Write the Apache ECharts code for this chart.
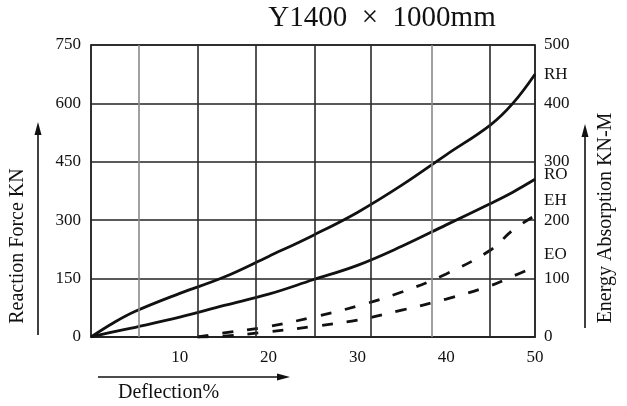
<!DOCTYPE html>
<html>
<head>
<meta charset="utf-8">
<script src="https://cdn.jsdelivr.net/npm/echarts@6/dist/echarts.min.js"></script>
<style>
html,body{margin:0;padding:0;background:#fff;}
#chart{width:627px;height:406px;}
</style>
</head>
<body>
<div id="chart"></div>
<script>
// ---- data ----
const titleText = 'Y1400  ×  1000mm';
const xTicks = [10, 20, 30, 40, 50];
const leftTicks = [0, 150, 300, 450, 600, 750];
const rightTicks = [0, 100, 200, 300, 400, 500];

const reactionDeflection = [0, 2.5, 5, 10, 15, 20, 25, 30, 35, 40, 45, 47.5, 50];
const rhForce = [0, 36, 66, 112, 154, 207, 261, 320, 390, 468, 545, 600, 675];
const roForce = [0, 13, 25, 51, 81, 110, 147, 184, 233, 288, 343, 372, 405];

const energyDeflection = [12, 15, 20, 25, 30, 35, 40, 45, 47.5, 50];
const ehEnergy = [0, 7, 18, 34, 53, 77, 108, 149, 183, 208];
const eoEnergy = [0, 1.5, 9, 18, 29, 46, 65, 88, 104, 120];

// vertical grid lines of the reference (deflection %)
const gridDeflection = [5.4, 12.05, 18.6, 25.2, 31.5, 38.4, 44.9];

const seriesNames = ['RH', 'RO', 'EH', 'EO'];

function pairs(xs, ys) { return xs.map((x, i) => [x, ys[i]]); }

const serif = '"Liberation Serif", "Times New Roman", serif';
const ink = '#111';

const chart = echarts.init(document.getElementById('chart'), null, {renderer: 'canvas'});

const lineBase = {
  type: 'line', showSymbol: false, symbol: 'none', smooth: 0.4, silent: true,
  endLabel: {show: true, formatter: '{a}', color: ink, fontFamily: serif, fontSize: 17, distance: 9}
};

chart.setOption({
  animation: false,
  backgroundColor: '#fff',
  title: {
    text: titleText, left: 377, top: -1, textAlign: 'center',
    textStyle: {fontFamily: serif, fontSize: 29, fontWeight: 'normal', color: ink}
  },
  grid: {left: 91, right: 92, top: 45, bottom: 69, show: true, borderColor: '#222', borderWidth: 1.5, backgroundColor: 'transparent'},
  xAxis: {
    type: 'value', min: 0, max: 50, interval: 10,
    axisLine: {show: true, lineStyle: {color: '#222', width: 1.5}},
    axisTick: {show: false}, splitLine: {show: false},
    axisLabel: {
      color: ink, fontFamily: serif, fontSize: 17, margin: 12,
      formatter: v => xTicks.includes(v) ? String(v) : ''
    }
  },
  yAxis: [{
    type: 'value', min: leftTicks[0], max: leftTicks[leftTicks.length - 1], interval: leftTicks[1] - leftTicks[0],
    axisLine: {show: true, lineStyle: {color: '#222', width: 1.5}},
    axisTick: {show: false},
    splitLine: {show: true, lineStyle: {color: '#222', width: 1.6}},
    axisLabel: {color: ink, fontFamily: serif, fontSize: 17, margin: 10}
  }, {
    type: 'value', min: rightTicks[0], max: rightTicks[rightTicks.length - 1], interval: rightTicks[1] - rightTicks[0],
    position: 'right',
    axisLine: {show: true, lineStyle: {color: '#222', width: 1.5}},
    axisTick: {show: false}, splitLine: {show: false},
    axisLabel: {color: ink, fontFamily: serif, fontSize: 17, margin: 9}
  }],
  series: [
    Object.assign({}, lineBase, {
      name: seriesNames[0], yAxisIndex: 0, data: pairs(reactionDeflection, rhForce),
      lineStyle: {color: ink, width: 2.8},
      endLabel: Object.assign({}, lineBase.endLabel, {offset: [0, 0]}),
      markLine: {
        silent: true, symbol: 'none', label: {show: false},
        lineStyle: {color: '#2a2a2a', width: 1.6, type: 'solid'},
        data: gridDeflection.map((v, i) => (i === 0 || i === 5)
          ? {xAxis: v, lineStyle: {color: '#8a8a8a', width: 1.6, type: 'solid'}}
          : {xAxis: v})
      }
    }),
    Object.assign({}, lineBase, {
      name: seriesNames[1], yAxisIndex: 0, data: pairs(reactionDeflection, roForce),
      lineStyle: {color: ink, width: 2.8},
      endLabel: Object.assign({}, lineBase.endLabel, {offset: [0, -5]})
    }),
    Object.assign({}, lineBase, {
      name: seriesNames[2], yAxisIndex: 1, data: pairs(energyDeflection, ehEnergy),
      lineStyle: {color: ink, width: 2.8, type: [11, 14]},
      endLabel: Object.assign({}, lineBase.endLabel, {offset: [0, -15]})
    }),
    Object.assign({}, lineBase, {
      name: seriesNames[3], yAxisIndex: 1, data: pairs(energyDeflection, eoEnergy),
      lineStyle: {color: ink, width: 2.8, type: [11, 14]},
      endLabel: Object.assign({}, lineBase.endLabel, {offset: [0, -12]})
    })
  ],
  graphic: [
    // left axis name + arrow
    {type: 'text', x: 18, y: 246, rotation: Math.PI / 2,
      style: {text: 'Reaction Force KN', fill: ink, font: '20px ' + serif, textAlign: 'center', textVerticalAlign: 'middle'}},
    {type: 'line', shape: {x1: 38, y1: 335, x2: 38, y2: 132}, style: {stroke: ink, lineWidth: 1.6}},
    {type: 'polygon', shape: {points: [[38, 122], [34.5, 135], [41.5, 135]]}, style: {fill: ink}},
    // right axis name + arrow
    {type: 'text', x: 606, y: 218, rotation: Math.PI / 2,
      style: {text: 'Energy Absorption KN-M', fill: ink, font: '20px ' + serif, textAlign: 'center', textVerticalAlign: 'middle'}},
    {type: 'line', shape: {x1: 585, y1: 328, x2: 585, y2: 134}, style: {stroke: ink, lineWidth: 1.6}},
    {type: 'polygon', shape: {points: [[585, 124], [581.5, 137], [588.5, 137]]}, style: {fill: ink}},
    // x axis name + arrow
    {type: 'line', shape: {x1: 98, y1: 377, x2: 280, y2: 377}, style: {stroke: ink, lineWidth: 1.6}},
    {type: 'polygon', shape: {points: [[290, 377], [277, 373.5], [277, 380.5]]}, style: {fill: ink}},
    {type: 'text', x: 118, y: 393,
      style: {text: 'Deflection%', fill: ink, font: '20px ' + serif, textAlign: 'left', textVerticalAlign: 'middle'}}
  ]
});
</script>
</body>
</html>
